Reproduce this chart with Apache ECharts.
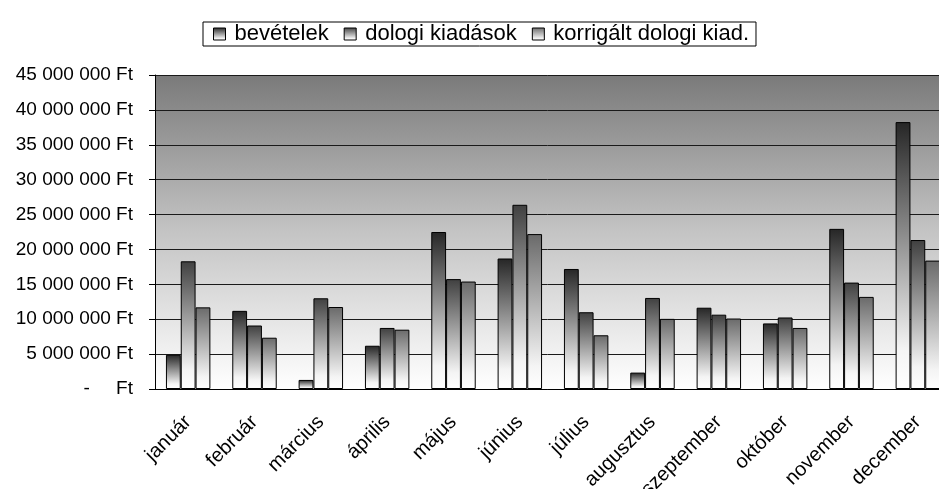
<!DOCTYPE html>
<html>
<head>
<meta charset="utf-8">
<script src="https://cdn.jsdelivr.net/npm/echarts@6/dist/echarts.min.js"></script>
<style>
  html, body { margin: 0; padding: 0; background: #fff; }
  #chart { width: 939px; height: 489px; }
</style>
</head>
<body>
<div id="chart"></div>
<script>
var months = ["január", "február", "március", "április", "május", "június",
  "július", "augusztus", "szeptember", "október", "november", "december"];
var seriesNames = ["bevételek", "dologi kiadások", "korrigált dologi kiad."];

// values in Ft
var bevetelek = [4900000, 11200000, 1300000, 6200000, 22500000, 18700000,
  17200000, 2350000, 11650000, 9400000, 22950000, 38250000];
var dologiKiadasok = [18300000, 9100000, 13000000, 8750000, 15750000, 26400000,
  11000000, 13050000, 10650000, 10250000, 15250000, 21350000];
var korrigalt = [11700000, 7350000, 11750000, 8500000, 15400000, 22200000,
  7700000, 10050000, 10100000, 8750000, 13200000, 18400000];

var yTicks = { min: 0, max: 45000000, interval: 5000000 };

var font = "Liberation Sans, Arial, sans-serif";

function barFill(top) {
  return new echarts.graphic.LinearGradient(0, 0, 0, 1, [
    { offset: 0, color: top },
    { offset: 0.85, color: "#f4f4f4" },
    { offset: 1, color: "#ffffff" }
  ]);
}

function money(v) {
  if (v === 0) return "-     Ft";
  return String(v).replace(/\B(?=(\d{3})+(?!\d))/g, " ") + " Ft";
}

var chart = echarts.init(document.getElementById("chart"));

function makeSeries(name, data, top) {
  return {
    name: name,
    type: "bar",
    data: data,
    barGap: "0%",
    barCategoryGap: "33%",
    itemStyle: {
      color: barFill(top),
      borderColor: "#000",
      borderWidth: 1
    },
    emphasis: { disabled: true }
  };
}

var option = {
  animation: false,
  textStyle: { fontFamily: font },
  legend: {
    left: 203,
    top: 22,
    padding: [1, 7, 1, 10],
    itemGap: 15,
    itemWidth: 12,
    itemHeight: 12,
    icon: "rect",
    borderColor: "#000",
    borderWidth: 1,
    itemStyle: { borderColor: "#000", borderWidth: 1 },
    textStyle: {
      fontSize: 22,
      lineHeight: 22,
      color: "#000",
      fontFamily: font,
      padding: [0, 0, 0, 4]
    },
    data: seriesNames
  },
  grid: {
    left: 155,
    top: 75,
    width: 796,
    height: 314,
    show: true,
    borderWidth: 0,
    outerBoundsMode: "none",
    backgroundColor: new echarts.graphic.LinearGradient(0, 0, 0, 1, [
      { offset: 0, color: "#7a7a7a" },
      { offset: 0.5, color: "#c4c4c4" },
      { offset: 1, color: "#ffffff" }
    ])
  },
  xAxis: {
    type: "category",
    data: months,
    axisLine: { lineStyle: { color: "#000", width: 1 } },
    axisTick: { length: 6, lineStyle: { color: "#000" } },
    axisLabel: {
      rotate: 45,
      margin: 30,
      fontSize: 20,
      color: "#000",
      fontFamily: font
    }
  },
  yAxis: {
    type: "value",
    min: yTicks.min,
    max: yTicks.max,
    interval: yTicks.interval,
    axisLine: { show: true, lineStyle: { color: "#000", width: 1 } },
    axisTick: { show: true, length: 6, lineStyle: { color: "#000" } },
    splitLine: { lineStyle: { color: "#1a1a1a", width: 1 } },
    axisLabel: {
      formatter: money,
      margin: 22,
      fontSize: 19,
      color: "#000",
      fontFamily: font
    }
  },
  series: [
    makeSeries(seriesNames[0], bevetelek, "#262626"),
    makeSeries(seriesNames[1], dologiKiadasok, "#404040"),
    makeSeries(seriesNames[2], korrigalt, "#6a6a6a")
  ]
};

chart.setOption(option);
</script>
</body>
</html>
